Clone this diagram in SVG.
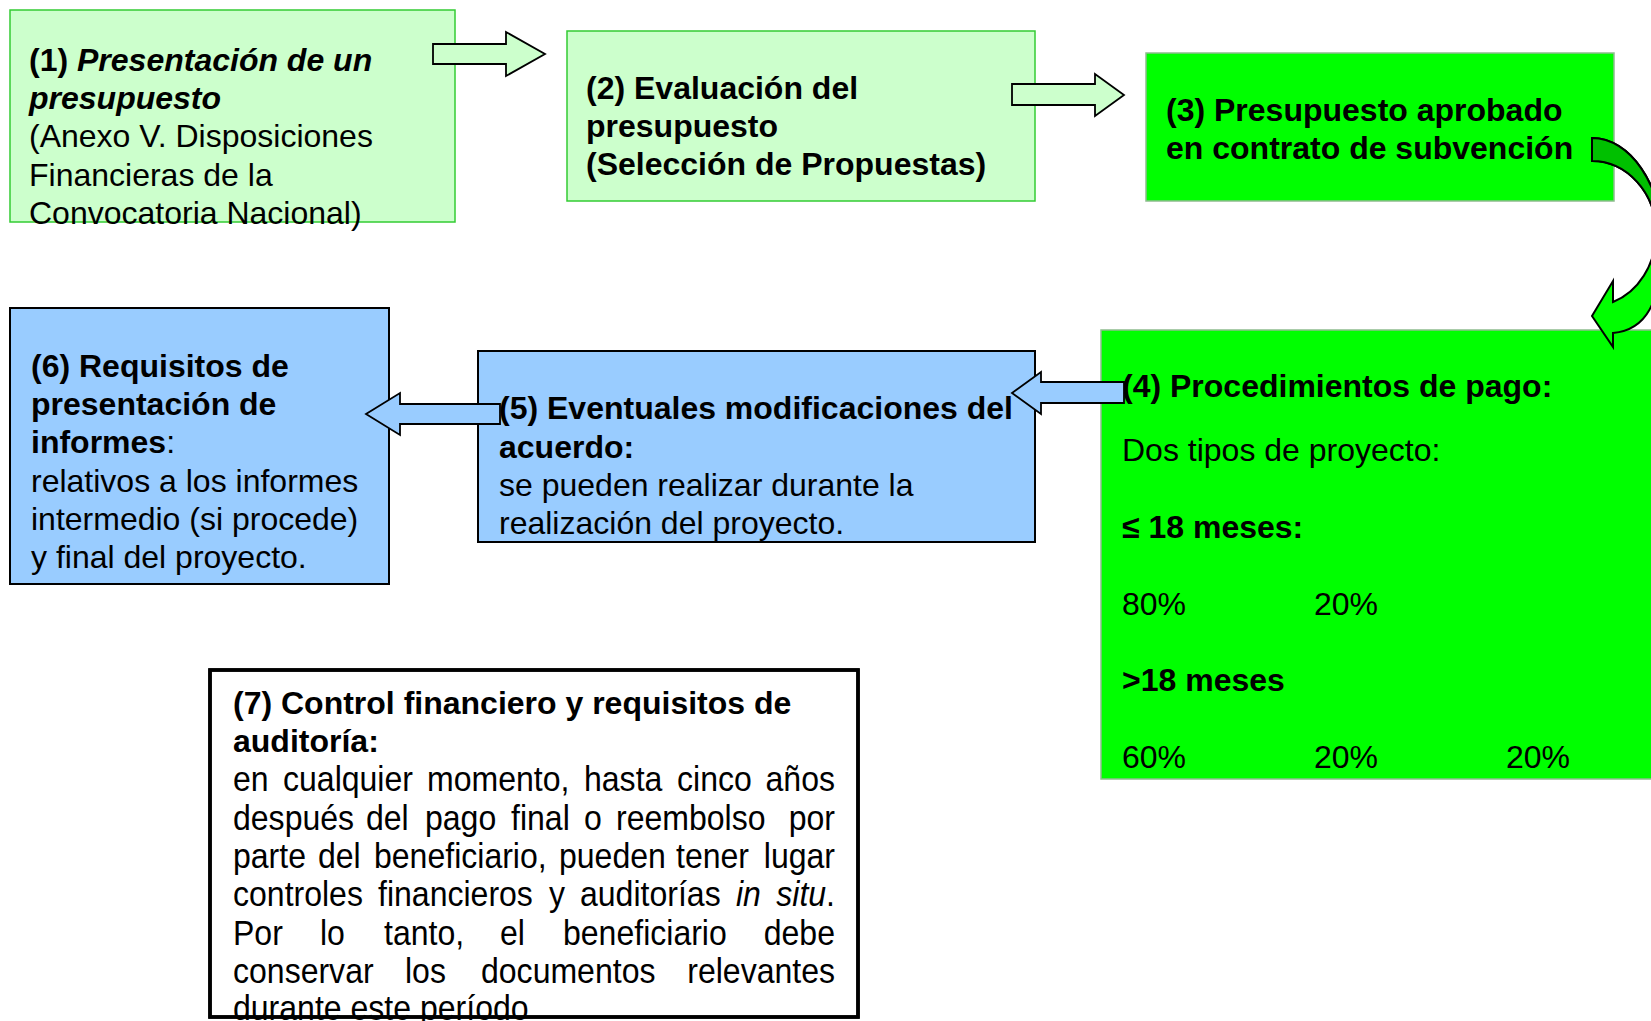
<svg xmlns="http://www.w3.org/2000/svg" width="1651" height="1021" viewBox="0 0 1651 1021">
<style>
text{font-family:"Liberation Sans",Arial,sans-serif;font-size:32px;fill:#000}
.b{font-weight:bold}
.bi{font-weight:bold;font-style:italic}
.it{font-style:italic}
.lg{fill:#ccffcc;stroke:#33cc33;stroke-width:1.5}
.gr{fill:#00ff00;stroke:#8fbc8f;stroke-width:1.5}
.bl{fill:#99ccff;stroke:#000;stroke-width:2}
.wh{fill:#fff;stroke:#000;stroke-width:3.5}
.aG{fill:#ccffcc;stroke:#000;stroke-width:1.8;stroke-linejoin:miter}
.aB{fill:#99ccff;stroke:#000;stroke-width:1.8;stroke-linejoin:miter}
.n7{font-size:36px}
</style>

<g id="node1">
<rect class="lg" x="10" y="10" width="445" height="212"/>
<text x="29" y="71"><tspan class="b">(1) </tspan><tspan class="bi">Presentación de un</tspan></text>
<text x="29" y="109" class="bi">presupuesto</text>
<text x="29" y="147">(Anexo V. Disposiciones</text>
<text x="29" y="186">Financieras de la</text>
<text x="29" y="224">Convocatoria Nacional)</text>
</g>

<g id="node2">
<rect class="lg" x="567" y="31" width="468" height="170"/>
<text x="586" y="99" class="b">(2) Evaluación del</text>
<text x="586" y="137" class="b">presupuesto</text>
<text x="586" y="175" class="b">(Selección de Propuestas)</text>
</g>

<g id="node3">
<rect class="gr" x="1146" y="53" width="468" height="148"/>
<text x="1166" y="121" class="b">(3) Presupuesto aprobado</text>
<text x="1166" y="159" class="b">en contrato de subvención</text>
</g>

<g id="node4">
<rect class="gr" x="1101" y="330" width="560" height="449"/>
<text x="1122" y="397" class="b">(4) Procedimientos de pago:</text>
<text x="1122" y="461">Dos tipos de proyecto:</text>
<text x="1122" y="538" class="b">≤ 18 meses:</text>
<text x="1122" y="615">80%</text>
<text x="1314" y="615">20%</text>
<text x="1122" y="691" class="b">&gt;18 meses</text>
<text x="1122" y="768">60%</text>
<text x="1314" y="768">20%</text>
<text x="1506" y="768">20%</text>
</g>

<g id="node5">
<rect class="bl" x="478" y="351" width="557" height="191"/>
<text x="499" y="419" class="b">(5) Eventuales modificaciones del</text>
<text x="499" y="458" class="b">acuerdo:</text>
<text x="499" y="496">se pueden realizar durante la</text>
<text x="499" y="534">realización del proyecto.</text>
</g>

<g id="node6">
<rect class="bl" x="10" y="308" width="379" height="276"/>
<text x="31" y="377" class="b">(6) Requisitos de</text>
<text x="31" y="415" class="b">presentación de</text>
<text x="31" y="453"><tspan class="b">informes</tspan>:</text>
<text x="31" y="492">relativos a los informes</text>
<text x="31" y="530">intermedio (si procede)</text>
<text x="31" y="568">y final del proyecto.</text>
</g>

<g id="node7">
<rect class="wh" x="210" y="670" width="648" height="347"/>
<text x="233" y="714" class="b">(7) Control financiero y requisitos de</text>
<text x="233" y="752" class="b">auditoría:</text>
<g class="n7">
<text class="n7" transform="translate(233,791) scale(0.89,1)">en</text>
<text class="n7" transform="translate(283,791) scale(0.89,1)">cualquier</text>
<text class="n7" transform="translate(427,791) scale(0.89,1)">momento,</text>
<text class="n7" transform="translate(584,791) scale(0.89,1)">hasta</text>
<text class="n7" transform="translate(677,791) scale(0.89,1)">cinco</text>
<text class="n7" text-anchor="end" transform="translate(835,791) scale(0.89,1)">años</text>

<text class="n7" transform="translate(233,830) scale(0.89,1)">después</text>
<text class="n7" transform="translate(366,830) scale(0.89,1)">del</text>
<text class="n7" transform="translate(425,830) scale(0.89,1)">pago</text>
<text class="n7" transform="translate(511,830) scale(0.89,1)">final</text>
<text class="n7" transform="translate(584,830) scale(0.89,1)">o</text>
<text class="n7" transform="translate(616,830) scale(0.89,1)">reembolso</text>
<text class="n7" text-anchor="end" transform="translate(835,830) scale(0.89,1)">por</text>

<text class="n7" transform="translate(233,868) scale(0.89,1)">parte</text>
<text class="n7" transform="translate(318,868) scale(0.89,1)">del</text>
<text class="n7" transform="translate(374,868) scale(0.89,1)">beneficiario,</text>
<text class="n7" transform="translate(559,868) scale(0.89,1)">pueden</text>
<text class="n7" transform="translate(676,868) scale(0.89,1)">tener</text>
<text class="n7" text-anchor="end" transform="translate(835,868) scale(0.89,1)">lugar</text>

<text class="n7" transform="translate(233,906) scale(0.89,1)">controles</text>
<text class="n7" transform="translate(378,906) scale(0.89,1)">financieros</text>
<text class="n7" transform="translate(549,906) scale(0.89,1)">y</text>
<text class="n7" transform="translate(580,906) scale(0.89,1)">auditorías</text>
<text class="n7 it" transform="translate(736,906) scale(0.89,1)">in</text>
<text class="n7" text-anchor="end" transform="translate(835,906) scale(0.89,1)"><tspan class="it">situ</tspan>.</text>

<text class="n7" transform="translate(233,945) scale(0.89,1)">Por</text>
<text class="n7" transform="translate(320,945) scale(0.89,1)">lo</text>
<text class="n7" transform="translate(384,945) scale(0.89,1)">tanto,</text>
<text class="n7" transform="translate(500,945) scale(0.89,1)">el</text>
<text class="n7" transform="translate(563,945) scale(0.89,1)">beneficiario</text>
<text class="n7" text-anchor="end" transform="translate(835,945) scale(0.89,1)">debe</text>

<text class="n7" transform="translate(233,983) scale(0.89,1)">conservar</text>
<text class="n7" transform="translate(405,983) scale(0.89,1)">los</text>
<text class="n7" transform="translate(481,983) scale(0.89,1)">documentos</text>
<text class="n7" text-anchor="end" transform="translate(835,983) scale(0.89,1)">relevantes</text>

<text class="n7" transform="translate(233,1020) scale(0.89,1)">durante este período</text>
</g>
<rect x="210" y="670" width="648" height="347" fill="none" stroke="#000" stroke-width="3.5"/>
</g>

<g id="connectors">
<path class="aG" d="M433,44 H506 V32 L545,54 L506,76 V64 H433 Z"/>
<path class="aG" d="M1012,84 H1095 V74 L1124,95 L1095,116 V105 H1012 Z"/>
<path class="aB" d="M1124,382 H1041 V372 L1012,393 L1041,414 V403 H1124 Z"/>
<path class="aB" d="M500,404 H400 V393 L366,414 L400,435 V424 H500 Z"/>
<path fill="#00ff00" stroke="#000" stroke-width="2" stroke-linejoin="miter" d="M1592,138 C1630,138 1662,185 1662,240 C1662,305 1645,330 1613,333 L1613,347 L1592,316 L1613,281 L1613,302 C1638,292 1656,265 1656,232 C1656,193 1627,161 1592,161 Z"/>
<path fill="#00c000" stroke="#000" stroke-width="2" d="M1592,138 C1630,138 1662,185 1662,240 L1656,232 C1656,193 1627,161 1592,161 Z"/>
</g>
</svg>
